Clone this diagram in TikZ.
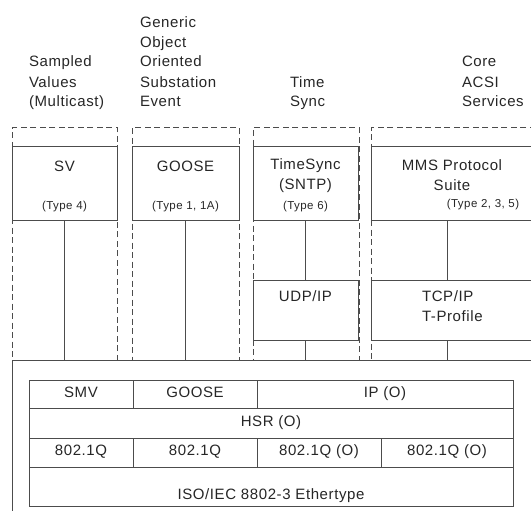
\documentclass[tikz,border=0pt]{standalone}
\usepackage{fontspec}
\setmainfont{Liberation Sans}[LetterSpace=4]
\usetikzlibrary{positioning}

\begin{document}
\begin{tikzpicture}[x=1pt, y=-1pt,
	 every node/.style={font=\fontsize{15}{20}\selectfont, text=black!85, inner sep=0pt, outer sep=0pt}]

	 % styles of the layers
	 \tikzstyle{column}=[draw=black!70, line width=1pt, dash pattern=on 6pt off 3.5pt, anchor=north west, minimum height=232pt]
	 \tikzstyle{box}=[draw=black!70, line width=1pt, anchor=north west]
	 \tikzstyle{cell}=[draw=black!70, line width=1pt, anchor=north west, text height=11pt, text depth=5pt]
	 \tikzstyle{type}=[font=\fontsize{11.5}{14}\selectfont]
	 \tikzstyle{link}=[draw=black!70, line width=1pt]

	 \useasboundingbox (0,0) rectangle (531,511);
	 \clip (0,0) rectangle (531,511);

	 % service headers
	 \node [anchor=base west, align=left] (svhead) at (29,107) {Sampled\\Values\\(Multicast)};
	 \node [anchor=base west, align=left] (goosehead) at (140,107) {Generic\\Object\\Oriented\\Substation\\Event};
	 \node [anchor=base west, align=left] (synchead) at (290,107) {Time\\Sync};
	 \node [anchor=base west, align=left] (acsihead) at (462,107) {Core\\ACSI\\Services};

	 % dashed columns
	 \node [column, minimum width=105pt] (svcol) at (12,128) {};
	 \node [column, minimum width=107pt] (goosecol) at (132,128) {};
	 \node [column, minimum width=106pt] (synccol) at (253,128) {};
	 \node [column, minimum width=180pt] (acsicol) at (371,128) {};

	 % protocol boxes
	 \node [box, minimum width=105pt, minimum height=73pt] (sv) at (12,147) {};
	 \node [box, minimum width=107pt, minimum height=73pt] (goose) at (132,147) {};
	 \node [box, minimum width=105pt, minimum height=73pt] (sntp) at (253,147) {};
	 \node [box, minimum width=180pt, minimum height=73pt] (mms) at (371,147) {};
	 \node [box, minimum width=105pt, minimum height=60pt] (udp) at (253,280) {};
	 \node [box, minimum width=180pt, minimum height=60pt] (tcp) at (371,280) {};
	 \node [box, minimum width=540pt, minimum height=170pt] (base) at (12,360) {};

	 \node [below=14pt of sv.north] (svlbl) {SV};
	 \node [type, above=8pt of sv.south] (svtype) {(Type 4)};
	 \node [below=14pt of goose.north] (gooselbl) {GOOSE};
	 \node [type, above=8pt of goose.south] (goosetype) {(Type 1, 1A)};
	 \node [below=12pt of sntp.north, align=center] (sntplbl) {TimeSync\\(SNTP)};
	 \node [type, above=8pt of sntp.south] (sntptype) {(Type 6)};
	 \node [anchor=north, align=center] (mmslbl) at (452,160) {MMS Protocol\\Suite};
	 \node [type] (mmstype) at (483,205) {(Type 2, 3, 5)};
	 \node [below=11pt of udp.north] (udplbl) {UDP/IP};
	 \node [anchor=north west, align=left] (tcplbl) at (422,291) {TCP/IP\\T-Profile};

	 % connectors down to the link layer
	 \coordinate (mmsx) at (447,0);
	 \draw [link] (sv) -- (sv |- base.north);
	 \draw [link] (goose) -- (goose |- base.north);
	 \draw [link] (sntp) -- (udp);
	 \draw [link] (udp) -- (udp |- base.north);
	 \draw [link] (mms.south -| mmsx) -- (tcp.north -| mmsx);
	 \draw [link] (tcp.south -| mmsx) -- (base.north -| mmsx);

	 % mapping table
	 \node [cell, minimum width=104pt, minimum height=28pt] (smv) at (29,380) {SMV};
	 \node [cell, minimum width=124pt, minimum height=28pt, right=0pt of smv] (goosemap) {GOOSE};
	 \node [cell, minimum width=256pt, minimum height=28pt, right=0pt of goosemap] (ip) {IP (O)};
	 \node [cell, minimum width=484pt, minimum height=30pt] (hsr) at (smv.south west) {HSR (O)};
	 \node [cell, minimum width=104pt, minimum height=29pt] (vlana) at (hsr.south west) {802.1Q};
	 \node [cell, minimum width=124pt, minimum height=29pt, right=0pt of vlana] (vlanb) {802.1Q};
	 \node [cell, minimum width=124pt, minimum height=29pt, right=0pt of vlanb] (vlanc) {802.1Q (O)};
	 \node [cell, minimum width=132pt, minimum height=29pt, right=0pt of vlanc] (vland) {802.1Q (O)};
	 \node [cell, minimum width=484pt, minimum height=39pt, text height=26pt, text depth=0pt] (ether) at (vlana.south west) {ISO/IEC 8802-3 Ethertype};

\end{tikzpicture}
\end{document}
